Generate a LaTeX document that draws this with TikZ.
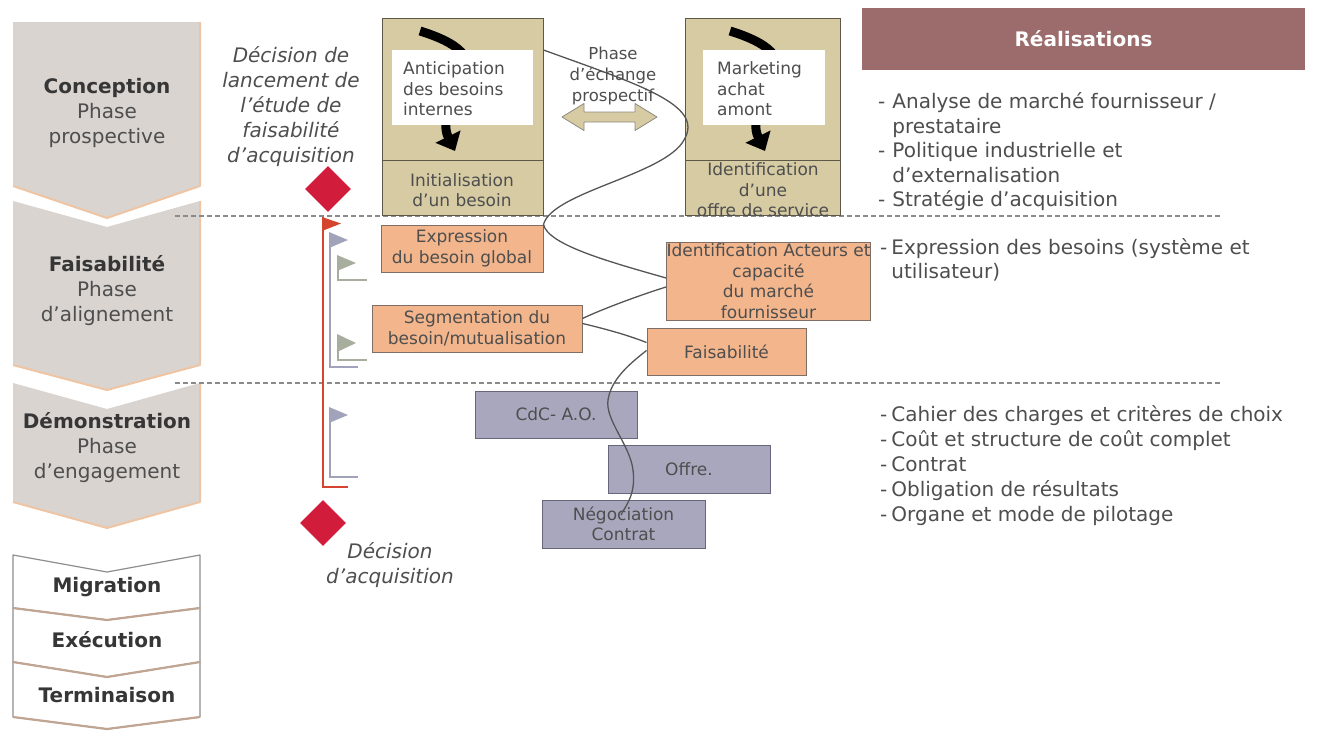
\documentclass[tikz,border=0pt]{standalone}
\usepackage{fontspec}
\setmainfont{DejaVu Sans}
\usetikzlibrary{arrows.meta,shapes.geometric}

\definecolor{chevgray}{HTML}{D9D4D0}
\definecolor{chevedge}{HTML}{EFC4A2}
\definecolor{stagegray}{HTML}{8E8E8E}
\definecolor{stagerimc}{HTML}{C0A592}
\definecolor{txt}{HTML}{4E4E4E}
\definecolor{darktxt}{HTML}{363636}
\definecolor{tanfill}{HTML}{D6CBA3}
\definecolor{tanedge}{HTML}{5E5848}
\definecolor{peachfill}{HTML}{F2B58C}
\definecolor{peachedge}{HTML}{7E6E66}
\definecolor{lavfill}{HTML}{A9A7BE}
\definecolor{lavedge}{HTML}{67667A}
\definecolor{wirec}{HTML}{555555}
\definecolor{sepc}{HTML}{8A8A8A}
\definecolor{crimson}{HTML}{D21C3C}
\definecolor{redtrack}{HTML}{D4442E}
\definecolor{flagblue}{HTML}{A0A3BA}
\definecolor{flaggreen}{HTML}{A8AE9E}
\definecolor{mauve}{HTML}{9C6C6C}

\newcommand\fsz[2]{\fontsize{#1}{#2}\selectfont}

\begin{document}
\begin{tikzpicture}[x=1pt,y=-1pt,
  chevbody/.style={fill=chevgray},
  chevrim/.style={draw=chevedge,line width=2pt,line join=round},
  stagebox/.style={fill=white,draw=stagegray,line width=1.2pt,line join=round},
  stagerim/.style={draw=stagerimc,line width=2.2pt,line join=round},
  phasetxt/.style={align=center,inner sep=0pt,text=txt,font=\fsz{20}{25}},
  tanbox/.style={draw=tanedge,fill=tanfill,line width=1pt},
  notebox/.style={fill=white,draw=none},
  boxtxt/.style={inner sep=0pt,text=txt,font=\fsz{17}{20.5}},
  peachbox/.style={draw=peachedge,fill=peachfill,line width=1pt,inner sep=0pt,align=center,text=txt,font=\fsz{17}{20.5}},
  lavbox/.style={draw=lavedge,fill=lavfill,line width=1pt,inner sep=0pt,align=center,text=txt,font=\fsz{17}{20.5}},
  wire/.style={draw=wirec,line width=1.3pt},
  separator/.style={draw=sepc,line width=1.2pt,dash pattern=on 5pt off 3pt},
  milestone/.style={diamond,fill=crimson,inner sep=0pt,minimum width=46pt,minimum height=46pt},
  track/.style={line width=2.6pt,line cap=butt},
  itemtxt/.style={inner sep=0pt,text=txt,font=\fsz{20}{24.5},anchor=base west},
  decision/.style={align=center,inner sep=0pt,text=txt,font=\fsz{20}{25}\itshape},
  bigarrow/.style={line width=9pt,-{Triangle[length=16pt,width=27pt]}},
]
\useasboundingbox (0,0) rectangle (1317,731);

% ---- phase chevrons (left column)
\fill[chevbody] (13,22) -- (200,22) -- (200,186) -- (107,218) -- (13,186) -- cycle;
\draw[chevrim] (200,22) -- (200,186) -- (107,218) -- (13,186);
\fill[chevbody] (13,201) -- (107,227) -- (200,201) -- (200,365) -- (107,390) -- (13,365) -- cycle;
\draw[chevrim] (200,201) -- (200,365) -- (107,390) -- (13,365);
\fill[chevbody] (13,383) -- (107,409) -- (200,383) -- (200,502) -- (107,528) -- (13,502) -- cycle;
\draw[chevrim] (200,383) -- (200,502) -- (107,528) -- (13,502);

\node[phasetxt] (conc) at (107,113) {{\color{darktxt}\bfseries Conception}\\Phase\\prospective};
\node[phasetxt] (feasph) at (107,291) {{\color{darktxt}\bfseries Faisabilité}\\Phase\\d’alignement};
\node[phasetxt] (demo) at (107,448) {{\color{darktxt}\bfseries Démonstration}\\Phase\\d’engagement};

% ---- later stages
\draw[stagebox] (13,555) -- (107,572) -- (200,555) -- (200,608) -- (107,620) -- (13,608) -- cycle;
\draw[stagebox] (13,608) -- (107,620) -- (200,608) -- (200,662) -- (107,677) -- (13,662) -- cycle;
\draw[stagebox] (13,662) -- (107,677) -- (200,662) -- (200,717) -- (107,729) -- (13,717) -- cycle;
\draw[stagerim] (13,608) -- (107,620) -- (200,608);
\draw[stagerim] (13,662) -- (107,677) -- (200,662);
\draw[stagerim] (13,717) -- (107,729) -- (200,717);
\node[phasetxt,text=darktxt,font=\fsz{20}{25}\bfseries] (migr) at (107,587) {Migration};
\node[phasetxt,text=darktxt,font=\fsz{20}{25}\bfseries] (exec) at (107,640) {Exécution};
\node[phasetxt,text=darktxt,font=\fsz{20}{25}\bfseries] (term) at (107,695) {Terminaison};

% ---- phase separators
\draw[separator] (175,216) -- (1220,216);
\draw[separator] (175,383) -- (1220,383);

% ---- prospective boxes
\node[tanbox,minimum width=161pt,minimum height=197pt,inner sep=0pt] (need) at (462.5,116.5) {};
\draw[tanedge,line width=1pt] (382,160) -- (543,160);
\draw[bigarrow] (420,31) .. controls (520,62) and (430,100) .. (455,151);
\node[notebox,minimum width=141pt,minimum height=75pt,inner sep=0pt] (antic) at (462.5,87.5) {};
\node[boxtxt,align=left,anchor=west] (antictxt) at (403,89) {Anticipation\\des besoins\\internes};
\node[boxtxt,align=center] (init) at (462,190) {Initialisation\\d’un besoin};

\node[tanbox,minimum width=155pt,minimum height=197pt,inner sep=0pt] (offer) at (762.5,116.5) {};
\draw[tanedge,line width=1pt] (685,160) -- (840,160);
\draw[bigarrow] (730,31) .. controls (830,62) and (740,100) .. (765,151);
\node[notebox,minimum width=122pt,minimum height=75pt,inner sep=0pt] (mkt) at (764,87.5) {};
\node[boxtxt,align=left,anchor=west] (mkttxt) at (717,89) {Marketing\\achat\\amont};
\node[boxtxt,align=center] (ident) at (763,190) {Identification\\d’une\\offre de service};

% exchange arrow between the two boxes
\filldraw[fill=tanfill,draw=tanedge!70,line width=0.8pt,line join=round]
  (562,117) -- (584,103.5) -- (584,112) -- (635,112) -- (635,103.5) -- (657,117)
  -- (635,130.5) -- (635,122) -- (584,122) -- (584,130.5) -- cycle;
\node[boxtxt,align=center,font=\fsz{16.5}{21}] (xchg) at (613,76) {Phase\\d’échange\\prospectif};

% ---- alignment boxes
\node[peachbox,minimum width=162pt,minimum height=47pt] (expr) at (462,248.5) {Expression\\du besoin global};
\node[peachbox,minimum width=170pt,minimum height=78pt] (actors) at (768.5,281) {Identification Acteurs et\\capacité\\du marché\\fournisseur};
\node[peachbox,minimum width=210pt,minimum height=47pt] (segm) at (477,328.5) {Segmentation du\\besoin/mutualisation};
\node[peachbox,minimum width=159pt,minimum height=47pt] (feas) at (726.5,351.5) {Faisabilité};

% ---- engagement boxes
\node[lavbox,minimum width=162pt,minimum height=47pt] (cdc) at (556,414.5) {CdC- A.O.};
\node[lavbox,minimum width=162pt,minimum height=48pt] (offre) at (689,469) {Offre.};
\node[lavbox,minimum width=163pt,minimum height=48pt] (nego) at (623.5,524) {Négociation\\Contrat};
\coordinate (wireend) at (621,515);

% ---- exchange wire
\draw[wire] ([yshift=66.5pt]need.east) .. controls (640,85) and (705,105) .. (684,140)
  .. controls (665,175) and (552,192) .. (expr.north east)
  .. controls (548,245) and (610,262) .. ([yshift=3pt]actors.west);
\draw[wire] ([yshift=-6pt]actors.west) .. controls (640,295) and (600,310) .. ([yshift=10pt]segm.east);
\draw[wire] ([yshift=5pt]segm.east) .. controls (610,330) and (630,336) .. ([yshift=9pt]feas.west);
\draw[wire] ([yshift=1pt]feas.west) .. controls (628,365) and (611,380) .. (608,400)
  .. controls (605,420) and (630,445) .. (633,470)
  .. controls (636,495) and (626,505) .. (wireend);

% ---- milestones and tracks
\node[milestone] (launch) at (328,189) {};
\node[milestone] (acquire) at (323,523) {};
\draw[track,draw=redtrack] (323,217) -- (323,487) -- (348,487);
\fill[redtrack] (322,217) -- (341,223.5) -- (322,231) -- cycle;
\draw[track,draw=flagblue] (330,233) -- (330,367) -- (358,367);
\fill[flagblue] (329,232) -- (348,240) -- (329,248) -- cycle;
\draw[track,draw=flaggreen] (338,256) -- (338,280) -- (367,280);
\fill[flaggreen] (337,255) -- (356,263) -- (337,271) -- cycle;
\draw[track,draw=flaggreen] (338,335) -- (338,360) -- (367,360);
\fill[flaggreen] (337,334) -- (356,343) -- (337,352) -- cycle;
\draw[track,draw=flagblue] (330,408) -- (330,477) -- (358,477);
\fill[flagblue] (329,407) -- (348,415) -- (329,423) -- cycle;

\node[decision] (launchtxt) at (291,107) {Décision de\\lancement de\\l’étude de\\faisabilité\\d’acquisition};
\node[decision] (acquiretxt) at (390,565) {Décision\\d'acquisition};

% ---- deliverables column
\node[fill=mauve,minimum width=443pt,minimum height=62pt,inner sep=0pt,text=white,font=\fsz{20}{25}\bfseries] (real) at (1083.5,39) {Réalisations};
\node[itemtxt] (itemsA) at (878,108.5) {\begin{tabular}[t]{@{}l@{\hspace{7pt}}l@{}}-&Analyse de marché fournisseur /\\&prestataire\\-&Politique industrielle et\\&d’externalisation\\-&Stratégie d’acquisition\end{tabular}};
\node[itemtxt] (itemsB) at (880,254) {\begin{tabular}[t]{@{}l@{\hspace{4pt}}l@{}}-&Expression des besoins (système et\\&utilisateur)\end{tabular}};
\node[itemtxt,font=\fsz{20}{25}] (itemsC) at (880,421) {\begin{tabular}[t]{@{}l@{\hspace{4pt}}l@{}}-&Cahier des charges et critères de choix\\-&Coût et structure de coût complet\\-&Contrat\\-&Obligation de résultats\\-&Organe et mode de pilotage\end{tabular}};
\end{tikzpicture}
\end{document}
